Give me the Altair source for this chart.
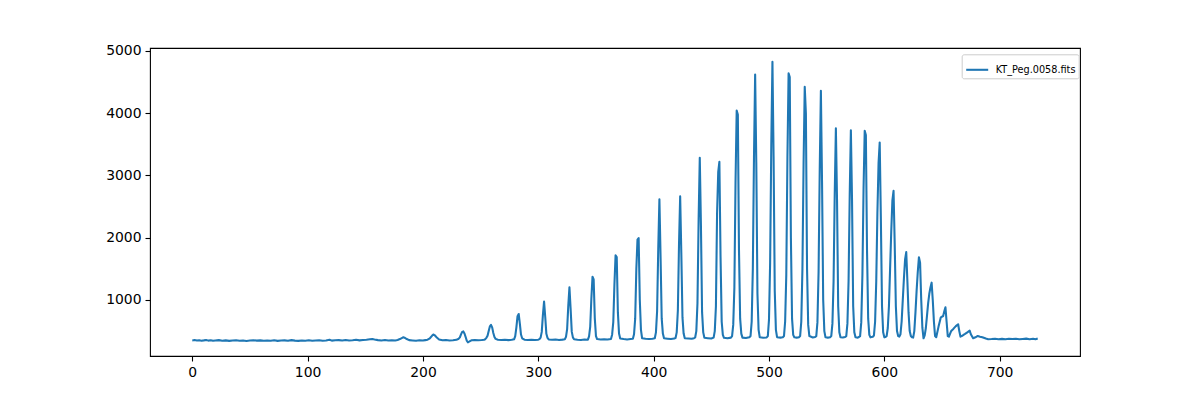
import altair as alt
import pandas as pd

# (pixel, counts) pairs
baseline_left = [
    (0, 350), (2, 356), (4, 348), (6, 353), (8, 345), (10, 351), (12, 358), (14, 347),
    (16, 352), (18, 344), (20, 350), (23, 355), (26, 346), (29, 351), (32, 343), (35, 349),
    (38, 354), (41, 345), (44, 350), (47, 342), (50, 348), (53, 353), (56, 347), (59, 351),
    (62, 344), (65, 349), (68, 346), (71, 353), (74, 343), (77, 348), (80, 351), (83, 345),
    (86, 355), (89, 347), (92, 343), (95, 350), (98, 346), (101, 352), (104, 344), (107, 349),
    (110, 353), (113, 346), (116, 350), (119, 362), (121, 347), (124, 352), (127, 355),
    (130, 349), (133, 358), (136, 350), (139, 354), (142, 360), (145, 351), (148, 356),
    (151, 362), (154, 370), (156, 372), (158, 364), (161, 355), (164, 350), (167, 357),
    (170, 348), (173, 353), (176, 350),
]

small_bumps = [
    (178, 358), (180, 372), (182, 392), (183, 401), (184, 394), (186, 372), (188, 355),
    (191, 350), (194, 346), (197, 352), (200, 348), (202, 355), (204, 362), (206, 385),
    (208, 428), (209, 445), (210, 436), (212, 398), (214, 366), (217, 352), (220, 356),
    (223, 350), (226, 354), (229, 360), (231, 378), (232, 400), (233, 448), (234, 488),
    (235, 495), (236, 462), (237, 405), (238, 345), (239, 320), (240, 330), (242, 352),
    (245, 358), (248, 352), (251, 356), (253, 362), (254, 370), (255, 392), (256, 425),
    (257, 500), (258, 575), (259, 599), (260, 560), (261, 470), (262, 405), (263, 375),
    (265, 362), (268, 356), (271, 360), (274, 355), (277, 360), (279, 368), (280, 420),
    (281, 560), (282, 740), (283, 775), (284, 620), (285, 445), (286, 385), (288, 362),
    (291, 358), (294, 362), (297, 356), (300, 362),
]

peaks_rising = [
    (301, 372), (302, 395), (303, 487), (304, 760), (305, 973), (306, 730), (307, 456),
    (308, 390), (309, 366), (312, 360), (315, 364), (318, 358), (321, 363),
    (323, 370), (324, 407), (325, 533), (326, 910), (327, 1204), (328, 868), (329, 491),
    (330, 399), (331, 368), (334, 362), (337, 358), (340, 365), (343, 362),
    (344, 415), (345, 567), (346, 1020), (347, 1374), (348, 1330), (349, 700), (350, 420),
    (351, 372), (354, 366), (357, 370), (360, 364), (363, 372),
    (364, 442), (365, 643), (366, 1250), (367, 1717), (368, 1690), (369, 800), (370, 460),
    (371, 380), (374, 372), (377, 366), (380, 374), (382, 378),
    (383, 450), (384, 700), (385, 1500), (386, 1970), (387, 1995), (388, 1000), (389, 520),
    (390, 385), (393, 376), (396, 372), (399, 378), (401, 385),
    (402, 480), (403, 820), (404, 1830), (405, 2616), (406, 1700), (407, 700), (408, 460),
    (409, 385), (412, 378), (415, 372), (418, 380), (419, 390),
    (420, 480), (421, 830), (422, 1900), (423, 2664), (424, 1750), (425, 720), (426, 460),
    (427, 385), (430, 380), (433, 376), (435, 385), (436, 398),
    (437, 500), (438, 950), (439, 2300), (440, 3284), (441, 2200), (442, 800), (443, 480),
    (444, 392), (447, 386), (450, 380), (452, 395),
    (453, 500), (454, 900), (455, 2400), (456, 3060), (457, 3220), (458, 1700), (459, 650),
    (460, 440), (461, 392), (464, 385), (467, 395),
    (468, 420), (469, 600), (470, 1200), (471, 2900), (472, 4045), (473, 3980), (474, 1800),
    (475, 700), (476, 460), (477, 395), (480, 388), (483, 400),
    (484, 420), (485, 650), (486, 1500), (487, 3300), (488, 4622), (489, 3200), (490, 1100),
    (491, 520), (492, 400), (495, 392), (498, 398),
]

peaks_falling = [
    (499, 420), (500, 680), (501, 1600), (502, 3500), (503, 4827), (504, 3300), (505, 1150),
    (506, 520), (507, 402), (510, 395), (512, 400),
    (513, 420), (514, 650), (515, 1400), (516, 3300), (517, 4640), (518, 4580), (519, 2000),
    (520, 700), (521, 440), (522, 400), (524, 395), (526, 402),
    (527, 420), (528, 650), (529, 1500), (530, 3200), (531, 4425), (532, 4000), (533, 1500),
    (534, 600), (535, 420), (538, 398), (540, 405),
    (541, 420), (542, 640), (543, 1450), (544, 3100), (545, 4360), (546, 2900), (547, 1000),
    (548, 500), (549, 400), (551, 395), (553, 402),
    (554, 420), (555, 620), (556, 1300), (557, 2700), (558, 3760), (559, 2600), (560, 900),
    (561, 480), (562, 400), (564, 396), (566, 405),
    (567, 420), (568, 620), (569, 1300), (570, 2700), (571, 3728), (572, 2600), (573, 900),
    (574, 480), (575, 400), (577, 395), (578, 405),
    (579, 420), (580, 640), (581, 1400), (582, 2800), (583, 3717), (584, 3650), (585, 1800),
    (586, 700), (587, 440), (588, 400), (590, 410),
    (591, 430), (592, 650), (593, 1300), (594, 2400), (595, 3200), (596, 3531), (597, 2300),
    (598, 900), (599, 480), (600, 400), (601, 405),
    (602, 420), (603, 550), (604, 900), (605, 1500), (606, 2100), (607, 2600), (608, 2754),
    (609, 1900), (610, 900), (611, 500), (612, 420), (613, 411),
    (614, 450), (615, 650), (616, 1000), (617, 1350), (618, 1650), (619, 1770), (620, 1300),
    (621, 800), (622, 500), (623, 420), (624, 400), (625, 396),
    (626, 500), (627, 800), (628, 1150), (629, 1450), (630, 1685), (631, 1600), (632, 1000),
    (633, 550), (634, 385),
    (635, 430), (636, 550), (637, 750), (638, 950), (639, 1100), (640, 1200), (641, 1278),
    (642, 1000), (643, 650), (644, 420), (645, 401),
]

tail = [
    (647, 572), (649, 722), (651, 743), (652, 820), (653, 883), (654, 650), (655, 420),
    (656, 410), (658, 502), (660, 539), (662, 580), (664, 610), (665, 500), (666, 411),
    (668, 430), (670, 454), (672, 480), (674, 507), (675, 450), (677, 385), (679, 400),
    (681, 422), (683, 410), (685, 401), (688, 380), (690, 369), (693, 372), (696, 378),
    (699, 370), (702, 375), (705, 368), (708, 376), (711, 372), (714, 378), (717, 369),
    (720, 374), (723, 379), (726, 370), (729, 376), (731, 368), (733, 380),
]

series_name = "KT_Peg.0058.fits"
x_ticks = [0, 100, 200, 300, 400, 500, 600, 700]
y_ticks = [1000, 2000, 3000, 4000, 5000]

points = baseline_left + small_bumps + peaks_rising + peaks_falling + tail
df = pd.DataFrame(points, columns=["pixel", "counts"])
df["series"] = series_name

FONT = "DejaVu Sans"

chart = alt.Chart(df).mark_line(
    strokeWidth=2.08, strokeJoin="round", clip=True
).encode(
    x=alt.X("pixel:Q",
            scale=alt.Scale(domain=[-36.65, 769.65], nice=False, zero=False),
            axis=alt.Axis(values=x_ticks, title=None, format="d")),
    y=alt.Y("counts:Q",
            scale=alt.Scale(domain=[100, 5048], nice=False, zero=False),
            axis=alt.Axis(values=y_ticks, title=None, format="d")),
    color=alt.Color("series:N",
                    scale=alt.Scale(range=["#1f77b4"]),
                    legend=alt.Legend(
                        title=None, orient="none", legendX=811.7, legendY=6.3,
                        symbolType="stroke", symbolSize=484, symbolStrokeWidth=2.08,
                        labelFontSize=9.7, labelFont=FONT, labelColor="black",
                        fillColor="white", strokeColor="#cccccc", cornerRadius=2,
                        padding=3, labelOffset=6)),
    order=alt.Order("pixel:Q"),
).properties(
    width=930, height=308,
    padding={"left": 142, "top": 40, "right": 112, "bottom": 36},
    autosize=alt.AutoSizeParams(type="none"),
).configure_view(
    stroke="black", strokeWidth=1.1
).configure_axis(
    domain=False, grid=False, ticks=True, tickColor="black", tickWidth=1.1,
    tickSize=5, labelFont=FONT, labelFontSize=13.9, labelColor="black",
    labelPadding=4,
)

chart.save("out.html", embed_options={"renderer": "svg", "actions": False})
